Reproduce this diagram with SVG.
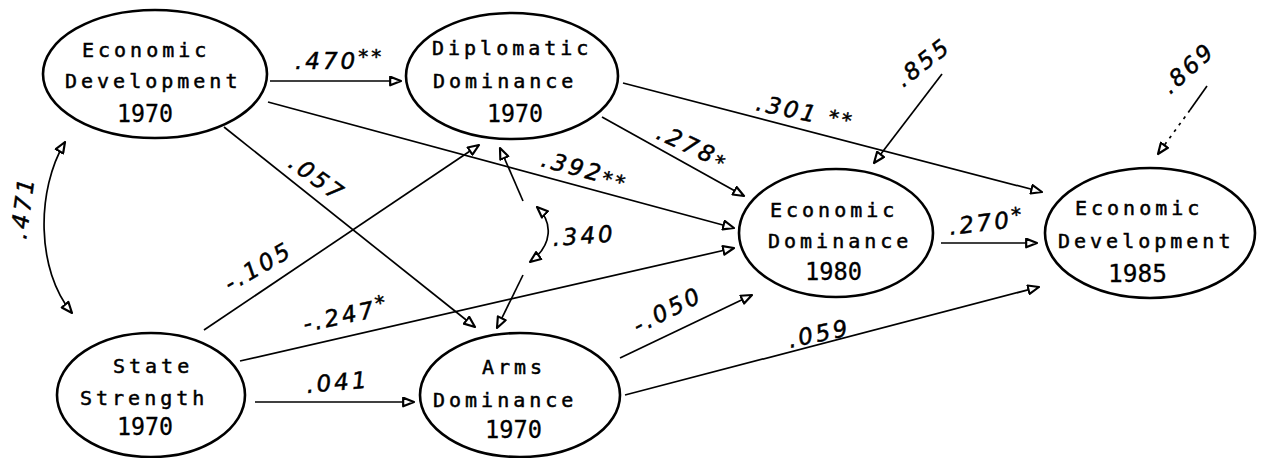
<svg xmlns="http://www.w3.org/2000/svg" width="1263" height="458" viewBox="0 0 1263 458">
  <style>
    .node ellipse { fill: #fff; stroke: #000; stroke-width: 2.6; }
    .lbl { font-family: "DejaVu Sans Mono", monospace; font-size: 20px; letter-spacing: 4px; fill: #000; stroke: #000; stroke-width: 0.5; }
    .yr { font-family: "DejaVu Sans Mono", monospace; font-size: 25px; fill: #000; stroke: #000; stroke-width: 0.3; }
    .edge { fill: none; stroke: #000; stroke-width: 1.7; }
    .dash { stroke-dasharray: 3 5; }
    .coef { font-family: "DejaVu Sans", sans-serif; font-style: italic; font-size: 23px; letter-spacing: 3px; fill: #000; stroke: #000; stroke-width: 0.5; }
    .star { font-size: 20px; }
  </style>
  <defs>
    <marker id="arr" viewBox="0 0 12 10" refX="11" refY="5" markerWidth="13" markerHeight="11" orient="auto-start-reverse" markerUnits="userSpaceOnUse">
      <path d="M1,1 L11,5 L1,9 Z" fill="#fff" stroke="#000" stroke-width="2" stroke-linejoin="round"/>
    </marker>
  </defs>

  <!-- connectors -->
  <g id="connectors">
    <line class="edge" x1="270" y1="81" x2="401" y2="81" marker-end="url(#arr)"/>
    <line class="edge" x1="268" y1="102" x2="734" y2="228" marker-end="url(#arr)"/>
    <line class="edge" x1="224" y1="127" x2="475" y2="327" marker-end="url(#arr)"/>
    <path class="edge" d="M65,142 C36,190 36,270 72,313" marker-start="url(#arr)" marker-end="url(#arr)"/>
    <line class="edge" x1="204" y1="330" x2="479" y2="145" marker-end="url(#arr)"/>
    <line class="edge" x1="240" y1="361" x2="734" y2="248" marker-end="url(#arr)"/>
    <line class="edge" x1="255" y1="402" x2="414" y2="402" marker-end="url(#arr)"/>
    <line class="edge" x1="602" y1="117" x2="744" y2="196" marker-end="url(#arr)"/>
    <line class="edge" x1="623" y1="83" x2="1042" y2="192" marker-end="url(#arr)"/>
    <!-- correlation between the two dominance measures -->
    <line class="edge" x1="523" y1="201" x2="500" y2="148" marker-end="url(#arr)"/>
    <path class="edge" d="M530,262 C553,245 553,222 537,207" marker-start="url(#arr)" marker-end="url(#arr)"/>
    <line class="edge" x1="523" y1="275" x2="497" y2="328" marker-end="url(#arr)"/>
    <line class="edge" x1="620" y1="358" x2="752" y2="295" marker-end="url(#arr)"/>
    <line class="edge" x1="625" y1="395" x2="1039" y2="287" marker-end="url(#arr)"/>
    <line class="edge" x1="941" y1="243" x2="1037" y2="243" marker-end="url(#arr)"/>
    <!-- residual paths -->
    <line class="edge" x1="942" y1="74" x2="874" y2="163" marker-end="url(#arr)"/>
    <line class="edge" x1="1207" y1="86" x2="1190" y2="110"/>
    <line class="edge dash" x1="1190" y1="110" x2="1158" y2="154" marker-end="url(#arr)"/>
  </g>

  <!-- coefficients -->
  <g id="coefficients">
    <text class="coef" x="295" y="69">.470<tspan class="star" dy="-6">**</tspan></text>
    <text class="coef" transform="translate(540,166) rotate(15)">.392<tspan class="star" dy="2">**</tspan></text>
    <text class="coef" transform="translate(287,166) rotate(36)">.057</text>
    <text class="coef" transform="translate(26,240) rotate(-82)">.471</text>
    <text class="coef" transform="translate(230,292) rotate(-30)">-.105</text>
    <text class="coef" transform="translate(305,332) rotate(-12)">-.247<tspan class="star" dy="-6">*</tspan></text>
    <text class="coef" transform="translate(307,393) rotate(-5)">.041</text>
    <text class="coef" transform="translate(655,138) rotate(25)">.278<tspan class="star" dy="2">*</tspan></text>
    <text class="coef" transform="translate(755,110) rotate(12)">.301 <tspan class="star" dy="-2">**</tspan></text>
    <text class="coef" transform="translate(553,246) rotate(-4)">.340</text>
    <text class="coef" transform="translate(638,334) rotate(-27)">-.050</text>
    <text class="coef" transform="translate(790,348) rotate(-12)">.059</text>
    <text class="coef" transform="translate(950,235) rotate(-7)">.270<tspan class="star" dy="-5">*</tspan></text>
    <text class="coef" transform="translate(903,88) rotate(-38)">.855</text>
    <text class="coef" transform="translate(1170,95) rotate(-42)">.869</text>
  </g>

  <!-- nodes -->
  <g id="econ-dev-1970" class="node">
    <ellipse cx="155" cy="74" rx="112" ry="64"/>
    <text class="lbl" x="82" y="57">Economic</text>
    <text class="lbl" x="65" y="88">Development</text>
    <text class="yr" x="117" y="122" textLength="56" lengthAdjust="spacingAndGlyphs">1970</text>
  </g>
  <g id="diplomatic-dominance-1970" class="node">
    <ellipse cx="512" cy="76" rx="106" ry="63"/>
    <text class="lbl" x="432" y="55">Diplomatic</text>
    <text class="lbl" x="433" y="88">Dominance</text>
    <text class="yr" x="487" y="122" textLength="56" lengthAdjust="spacingAndGlyphs">1970</text>
  </g>
  <g id="econ-dominance-1980" class="node">
    <ellipse cx="836" cy="233" rx="97" ry="64"/>
    <text class="lbl" x="770" y="217">Economic</text>
    <text class="lbl" x="768" y="248">Dominance</text>
    <text class="yr" x="805" y="280" textLength="57" lengthAdjust="spacingAndGlyphs">1980</text>
  </g>
  <g id="econ-dev-1985" class="node">
    <ellipse cx="1150" cy="233" rx="105" ry="65"/>
    <text class="lbl" x="1075" y="215">Economic</text>
    <text class="lbl" x="1058" y="248">Development</text>
    <text class="yr" x="1108" y="282" textLength="59" lengthAdjust="spacingAndGlyphs">1985</text>
  </g>
  <g id="state-strength-1970" class="node">
    <ellipse cx="151" cy="395" rx="94" ry="62"/>
    <text class="lbl" x="113" y="373">State</text>
    <text class="lbl" x="80" y="405">Strength</text>
    <text class="yr" x="117" y="435" textLength="56" lengthAdjust="spacingAndGlyphs">1970</text>
  </g>
  <g id="arms-dominance-1970" class="node">
    <ellipse cx="520" cy="395" rx="100" ry="62"/>
    <text class="lbl" x="482" y="374">Arms</text>
    <text class="lbl" x="433" y="407">Dominance</text>
    <text class="yr" x="485" y="438" textLength="57" lengthAdjust="spacingAndGlyphs">1970</text>
  </g>
</svg>
